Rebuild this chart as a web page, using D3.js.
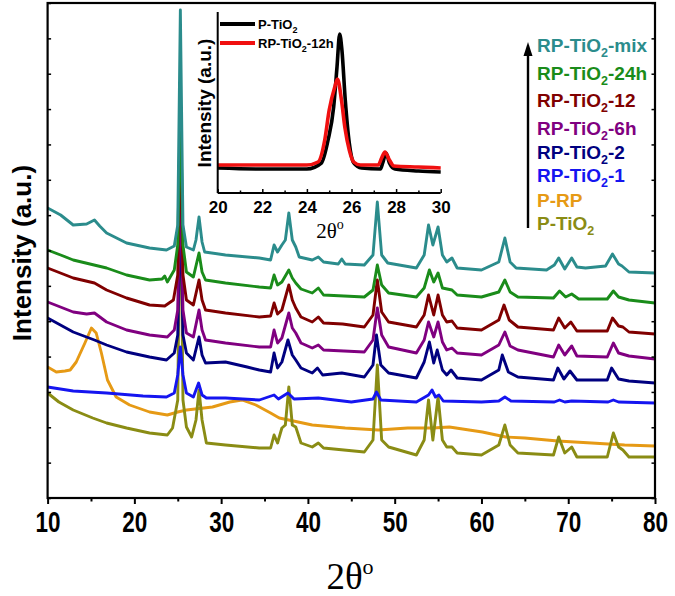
<!DOCTYPE html>
<html><head><meta charset="utf-8">
<script src="https://cdn.jsdelivr.net/npm/d3@7"></script>
<style>body{margin:0;background:#fff} svg{display:block}</style>
</head><body><svg id="c" width="675" height="596"></svg>
<script>
// ---------- DATA (2θ in degrees, intensity in a.u.) ----------
const xTicksMain = [10,20,30,40,50,60,70,80];
const xTicksInset = [20,22,24,26,28,30];

const mixData = [[10,290],[11.5,283],[12.95,273],[14.5,274],[15.4,278],[16,272],[16.8,265],[19.1,255],[21.75,250],[23.7,248],[24.6,252],[25,273],[25.3,488],[25.6,273],[26,251],[26.8,248],[27.1,258],[27.45,281],[27.8,256],[28.1,246],[30.5,243],[34.4,240],[35.7,238],[36.1,253],[36.5,246],[37,253],[37.4,258],[37.8,285],[38.2,258],[38.6,251],[39,241],[40.5,238],[41.2,241],[41.8,236],[43.5,234],[43.9,239],[44.3,234],[46.5,233],[47.5,243],[48,296],[48.5,243],[49.2,235],[52.5,230],[53.4,243],[53.9,273],[54.4,253],[55,271],[55.5,243],[56,236],[56.6,240],[57.2,230],[60,228],[62,236],[62.7,260],[63.3,236],[64,230],[67.5,228],[68.4,233],[68.9,240],[69.6,229],[70.4,240],[71,231],[72,230],[74.3,232],[75.1,244],[75.8,234],[76.2,232],[77,226],[80,225]];
const h24Data = [[10,248],[11.5,243],[12.95,238],[16.8,230],[19.1,223],[21.75,218],[23.2,219],[23.5,222],[23.8,216],[24.6,228],[25,253],[25.3,398],[25.6,253],[26,226],[26.8,221],[27.45,245],[27.8,226],[28.2,218],[30.5,215],[34.4,211],[35.7,210],[36.1,223],[36.5,213],[37,216],[37.8,228],[38.2,220],[38.6,215],[39.2,209],[40.5,205],[41.2,210],[41.8,203],[46.5,201],[47.5,208],[48,233],[48.5,213],[49.3,205],[52.5,201],[53.4,210],[54,228],[54.5,216],[55,225],[55.5,210],[56.6,208],[57.2,203],[60,201],[62,206],[62.7,218],[63.3,206],[64.2,201],[68.3,200],[69,207],[69.7,201],[70.4,204],[71.2,199],[74.5,199],[75.2,207],[75.8,201],[77,198],[80,195]];
const h12Data = [[10,230],[12.95,220],[15.4,215],[16.8,208],[19.1,200],[21.75,193],[23.5,192],[24.5,198],[25,223],[25.3,373],[25.6,223],[26,198],[26.8,193],[27.45,218],[27.8,198],[28.2,188],[30.5,185],[34.4,181],[35.7,182],[36.1,195],[36.5,184],[37,188],[37.8,213],[38.2,198],[38.6,190],[39.2,181],[40.5,176],[41.2,181],[41.8,175],[44,174],[46.5,171],[47.5,183],[48,218],[48.5,186],[49.3,176],[52.5,171],[53.4,183],[53.9,203],[54.5,183],[55,203],[55.5,183],[56,176],[56.6,177],[57.2,170],[60,168],[62,178],[62.6,193],[63.2,178],[64.2,171],[68.3,168],[68.9,180],[69.6,170],[70.3,176],[71,167],[74.5,167],[75.1,180],[75.8,172],[76.3,171],[77,166],[80,164]];
const h6Data = [[10,196],[12.95,186],[14.5,184],[15.4,185],[16.8,176],[19.1,168],[21.75,163],[23.8,161],[24.6,168],[25,188],[25.3,333],[25.6,188],[26,165],[26.8,161],[27.45,188],[27.8,168],[28.2,158],[30.5,155],[34.4,151],[35.7,151],[36.1,168],[36.5,155],[37,160],[37.8,185],[38.2,170],[38.6,165],[39.2,155],[40.5,150],[41.2,153],[41.8,148],[46.5,146],[47.5,158],[48,190],[48.5,163],[49.3,151],[52.5,145],[53.4,158],[53.9,176],[54.5,161],[55,176],[55.5,156],[56,148],[56.6,150],[57.2,145],[60,143],[62,153],[62.7,166],[63.3,152],[64.2,148],[68.3,141],[68.9,153],[69.6,143],[70.4,152],[71,142],[74.5,141],[75.2,155],[75.8,145],[77,142],[80,139]];
const h2Data = [[10,180],[12.95,166],[15.4,158],[16.8,153],[19.1,146],[21.75,141],[23.7,138],[24.6,145],[25,163],[25.3,303],[25.6,163],[26,145],[26.8,138],[27.45,161],[27.8,143],[28.2,135],[30.5,136],[33,131],[34.4,128],[35.7,126],[36.1,145],[36.5,130],[37,136],[37.7,158],[38.2,143],[38.6,138],[39.2,130],[40.5,125],[41.1,130],[41.7,123],[43.9,125],[46.5,121],[47.5,133],[47.9,163],[48.4,133],[49.3,125],[52.5,120],[53.4,136],[54,156],[54.5,135],[54.9,148],[55.5,128],[56,123],[56.5,128],[57.2,120],[60,118],[62,128],[62.4,143],[63.1,126],[64.2,121],[68.3,118],[68.8,130],[69.5,119],[70.2,127],[71,118],[74.5,118],[75,130],[75.8,119],[77,117],[80,115]];
const h1Data = [[10,111],[12.95,107],[16.8,105],[21,102],[23.7,101],[24.6,105],[25,123],[25.3,151],[25.6,123],[26,105],[26.8,101],[27.4,115],[27.8,103],[28.3,100],[30.5,100],[34.4,98],[36.1,103],[36.6,99],[37.7,105],[38.4,99],[41.2,100],[45,96],[47.5,99],[47.9,106],[48.4,98],[52.5,96],[53.9,103],[54.3,108],[54.7,101],[55.1,103],[55.6,97],[60,96],[62,97],[62.7,101],[63.4,97],[68.4,96],[69,98],[69.6,96],[70.4,97],[74.6,96],[75.2,98],[75.8,96],[80,95]];
const rpData = [[10,131],[11,126],[12,127],[12.6,128],[13.3,136],[14.3,155],[15.05,170],[15.6,165],[16.2,145],[16.9,118],[17.9,101],[19.45,93],[21.75,86],[23.8,83],[25,86],[26,88],[29,91],[31,96],[32.4,98],[34,93],[35.7,85],[36.7,80],[40.5,73],[44.3,70],[48.1,68],[51.5,70],[54.4,70],[56.3,71],[60.1,66],[62.8,61],[65,60],[68.8,57],[72.7,55],[76.5,53],[80,52]];
const ptData = [[10,105],[11.3,96],[12.95,88],[15.2,80],[16.8,75],[19.1,70],[21.75,65],[23.8,63],[24.4,70],[25,98],[25.3,348],[25.6,98],[26,71],[26.6,61],[27.1,78],[27.45,108],[27.8,78],[28.3,55],[30.5,53],[34.4,50],[35.7,50],[36.1,63],[36.5,55],[37,70],[37.4,73],[37.8,111],[38.2,73],[38.6,71],[39.2,55],[40.5,51],[41.2,55],[41.8,50],[46.5,46],[47.5,58],[48,133],[48.5,58],[49.3,51],[52.5,43],[53.4,58],[53.9,98],[54.4,58],[55,101],[55.5,58],[56,51],[56.6,51],[57.2,45],[60,43],[62,53],[62.7,73],[63.3,53],[64.2,45],[68.3,43],[68.9,61],[69.6,45],[70.4,51],[71,41],[74.5,41],[75.2,65],[75.8,51],[76.3,48],[77,41],[80,41]];

// inset
const insetPT = [[20,25],[22,24],[24,24],[24.65,30],[24.95,53],[25.2,86],[25.35,126],[25.47,159],[25.57,143],[25.72,93],[25.9,50],[26.1,30],[26.45,25],[27.3,24],[27.4,30],[27.55,40],[27.7,30],[27.95,24],[29,22],[30,21]];
const insetRP12 = [[20,28],[22,28],[24,28],[24.5,31],[24.8,53],[25,83],[25.25,106],[25.37,114],[25.55,93],[25.7,66],[25.9,43],[26.1,31],[26.4,28],[27.2,28],[27.35,35],[27.5,41],[27.7,33],[27.9,27],[29,26],[30,25]];

const seriesNames = ["RP-TiO|2|-mix","RP-TiO|2|-24h","RP-TiO|2|-12","RP-TiO|2|-6h","RP-TiO|2|-2","RP-TiO|2|-1","P-RP","P-TiO|2|"];
const seriesColors = ["#2b8c8c","#1a8c1a","#800000","#800080","#000080","#1515f0","#e69a15","#8a8c14"];
const seriesData = [mixData,h24Data,h12Data,h6Data,h2Data,h1Data,rpData,ptData];
const drawOrder = [6,7,5,4,3,2,1,0];

// ---------- CHART ----------
const svg = d3.select("#c");
const M = {l:47.6, r:655, t:3, b:498};
const x = d3.scaleLinear().domain([10,80]).range([M.l, M.r]);
const y = d3.scaleLinear().domain([0,495]).range([M.b, M.t]);

svg.append("defs").append("clipPath").attr("id","clipMain")
  .append("rect").attr("x",M.l).attr("y",M.t).attr("width",M.r-M.l).attr("height",M.b-M.t);

const line = d3.line().x(d=>x(d[0])).y(d=>y(d[1]));
const gLines = svg.append("g").attr("clip-path","url(#clipMain)");
drawOrder.forEach(i=>{
  gLines.append("path").datum(seriesData[i]).attr("d",line)
    .attr("fill","none").attr("stroke",seriesColors[i]).attr("stroke-width",2.9)
    .attr("stroke-linejoin","round");
});

// frame
svg.append("rect").attr("x",M.l).attr("y",M.t).attr("width",M.r-M.l).attr("height",M.b-M.t)
  .attr("fill","none").attr("stroke","#000").attr("stroke-width",2.2);

// x axis
const xAx = svg.append("g").attr("transform",`translate(0,${M.b})`)
  .call(d3.axisBottom(x).tickValues(xTicksMain).tickSize(6).tickPadding(7).tickFormat(d3.format("d")));
xAx.select(".domain").remove();
xAx.selectAll(".tick line").attr("stroke-width",2);
xAx.selectAll("text").attr("font-family","'Liberation Sans',Arial,sans-serif").attr("font-weight","bold")
  .attr("font-size",30).attr("fill","#000").attr("textLength",25).attr("lengthAdjust","spacingAndGlyphs");
const xMin = svg.append("g").attr("transform",`translate(0,${M.b})`)
  .call(d3.axisBottom(x).tickValues(d3.range(15,80,10)).tickSize(3.5).tickFormat(""));
xMin.select(".domain").remove();
xMin.selectAll(".tick line").attr("stroke-width",2);

// y ticks (inside, both sides)
const yT = d3.range(0,15).map(i=>i*495/14);
const yl = svg.append("g").attr("transform",`translate(${M.l},0)`).call(d3.axisRight(y).tickValues(yT).tickSize(3.5).tickFormat(""));
yl.select(".domain").remove(); yl.selectAll(".tick line").attr("stroke-width",1.5);
const yr = svg.append("g").attr("transform",`translate(${M.r},0)`).call(d3.axisLeft(y).tickValues(yT).tickSize(3.5).tickFormat(""));
yr.select(".domain").remove(); yr.selectAll(".tick line").attr("stroke-width",1.5);

// axis titles
const xt = svg.append("text").attr("x",350).attr("y",589).attr("text-anchor","middle")
  .attr("font-family","'Liberation Serif','Times New Roman',serif").attr("font-size",37).attr("fill","#000");
xt.append("tspan").text("2θ");
xt.append("tspan").attr("dy",-15).attr("font-size",22).text("o");
svg.append("text").attr("transform","translate(31,253) rotate(-90)").attr("text-anchor","middle")
  .attr("font-family","'Liberation Sans',Arial,sans-serif").attr("font-weight","bold").attr("font-size",26)
  .text("Intensity (a.u.)");

// legend
const legY = [45,73,100.5,128,152,175,200,223];
const gLeg = svg.append("g").attr("font-family","'Liberation Sans',Arial,sans-serif").attr("font-weight","bold");
seriesNames.forEach((n,i)=>{
  const parts = n.split("|");
  const t = gLeg.append("text").attr("x",537).attr("y",legY[i]+6.5).attr("font-size",19).attr("fill",seriesColors[i]);
  t.append("tspan").text(parts[0]);
  if(parts.length>1){
    t.append("tspan").attr("font-size",12.5).attr("dy",5).text(parts[1]);
    if(parts[2]) t.append("tspan").attr("dy",-5).text(parts[2]);
  }
});
svg.append("line").attr("x1",528).attr("x2",528).attr("y1",228).attr("y2",52).attr("stroke","#000").attr("stroke-width",2.4);
svg.append("path").attr("d","M528,42 L523.5,56 L532.5,56 Z").attr("fill","#000");

// ---------- INSET ----------
const I = {l:217.7, r:440.7, t:12, b:193};
const xi = d3.scaleLinear().domain([20,30]).range([I.l,I.r]);
const yi = d3.scaleLinear().domain([0,181]).range([I.b,I.t]);
const lineI = d3.line().x(d=>xi(d[0])).y(d=>yi(d[1])).curve(d3.curveMonotoneX);
svg.append("path").datum(insetPT).attr("d",lineI).attr("fill","none").attr("stroke","#000").attr("stroke-width",3.6).attr("stroke-linejoin","round");
svg.append("path").datum(insetRP12).attr("d",lineI).attr("fill","none").attr("stroke","#f01010").attr("stroke-width",3.6).attr("stroke-linejoin","round");
svg.append("line").attr("x1",I.l).attr("x2",I.l).attr("y1",I.t).attr("y2",I.b).attr("stroke","#000").attr("stroke-width",2);
svg.append("line").attr("x1",I.l).attr("x2",I.r).attr("y1",I.b).attr("y2",I.b).attr("stroke","#000").attr("stroke-width",2);
const xiAx = svg.append("g").attr("transform",`translate(0,${I.b})`)
  .call(d3.axisTop(xi).tickValues(d3.range(20,30.01,1)).tickSize(3).tickFormat(""));
xiAx.select(".domain").remove(); xiAx.selectAll(".tick line").attr("stroke-width",1.5);
xiAx.selectAll(".tick line").attr("y2",d=> d%2===0 ? -4 : -2.5);
const xiLab = svg.append("g").attr("transform",`translate(0,${I.b})`)
  .call(d3.axisBottom(xi).tickValues(xTicksInset).tickSize(0).tickPadding(8).tickFormat(d3.format("d")));
xiLab.select(".domain").remove();
xiLab.selectAll("text").attr("font-family","'Liberation Sans',Arial,sans-serif").attr("font-weight","bold").attr("font-size",17).attr("fill","#000");
const xit = svg.append("text").attr("x",330).attr("y",238).attr("text-anchor","middle")
  .attr("font-family","'Liberation Serif','Times New Roman',serif").attr("font-size",21).attr("fill","#000");
xit.append("tspan").text("2θ");
xit.append("tspan").attr("dy",-9).attr("font-size",14).text("o");
svg.append("text").attr("transform","translate(211,103) rotate(-90)").attr("text-anchor","middle")
  .attr("font-family","'Liberation Sans',Arial,sans-serif").attr("font-weight","bold").attr("font-size",19)
  .text("Intensity (a.u.)");
// inset legend
const insNames = ["P-TiO|2","RP-TiO|2|-12h"];
const insCols = ["#000","#f01010"];
[24,43].forEach((yy,i)=>{
  svg.append("line").attr("x1",220).attr("x2",255).attr("y1",yy).attr("y2",yy).attr("stroke",insCols[i]).attr("stroke-width",4);
  const p = insNames[i].split("|");
  const t = svg.append("text").attr("x",258).attr("y",yy+5).attr("font-family","'Liberation Sans',Arial,sans-serif")
    .attr("font-weight","bold").attr("font-size",13).attr("fill","#000");
  t.append("tspan").text(p[0]);
  t.append("tspan").attr("font-size",9).attr("dy",4).text(p[1]);
  if(p[2]) t.append("tspan").attr("dy",-4).text(p[2]);
});
</script></body></html>
